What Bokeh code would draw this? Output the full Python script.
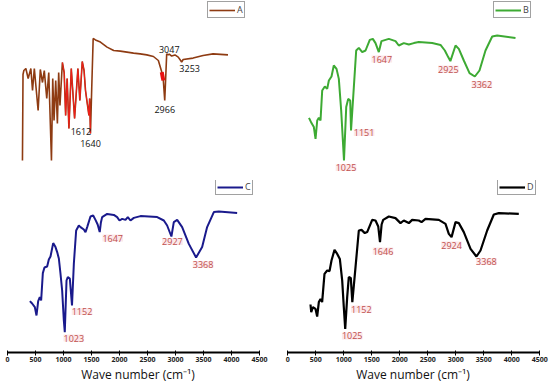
from bokeh.plotting import figure
from bokeh.models import Range1d, ColumnDataSource, LabelSet, Legend, LegendItem, FixedTicker
from bokeh.core.properties import value
from bokeh.layouts import column, row
from bokeh.embed import file_html
from bokeh.resources import INLINE

# ---------------- data (wave number cm-1, transmittance a.u.) ----------------
A_wn = [425, 435, 450, 486, 527, 575, 605, 637, 705, 744, 783, 815, 859, 895, 943, 966, 989,
        1019, 1049, 1072, 1095, 1138, 1170, 1196, 1223, 1255, 1297, 1356, 1415, 1450, 1493,
        1525, 1551, 1580, 1612, 1625, 1640, 1662, 1688, 1729, 1817, 1936, 2054, 2172, 2291,
        2409, 2527, 2646, 2764, 2852, 2913, 2941, 2966, 3001, 3030, 3047, 3090, 3149, 3207,
        3250, 3268, 3295, 3473, 3651, 3829, 4095]
A_t = [9, 52, 54, 55, 50, 55, 44, 55, 34, 54.5, 48, 54, 40, 53, 9, 50, 29,
       49, 27.5, 53, 36.5, 58, 53, 31.5, 50, 25, 55, 30, 55, 39, 58.5,
       54, 44, 38, 31.5, 40, 22.5, 45, 70, 69.3, 68.2, 65.7, 64, 63.7, 63.2,
       62.7, 62.3, 61.8, 61, 59, 53.2, 49, 39, 62.3, 61.8, 62.2, 61.2, 61.8, 60.7,
       59, 58.2, 59.5, 60.2, 61.5, 62.3, 61.8]

B_wn = [400, 445, 487, 517, 547, 576, 606, 636, 683, 725, 755, 802, 843, 892, 933, 975, 1025,
        1065, 1100, 1136, 1151, 1201, 1243, 1290, 1350, 1410, 1486, 1540, 1588, 1647, 1695,
        1826, 1945, 2004, 2093, 2183, 2272, 2361, 2600, 2749, 2826, 2886, 2925, 3017, 3076,
        3165, 3267, 3362, 3445, 3552, 3672, 3761, 4088]
B_t = [30.3, 27.7, 25.7, 19.8, 29, 30.3, 29, 44, 46, 44.8, 49, 51, 56.5, 54.8, 49.8, 34, 9,
       35.7, 39.8, 39, 24, 45.7, 64, 65.3, 63.2, 64, 69.3, 69.8, 67.7, 63.2, 68.7,
       69.8, 68.7, 66.5, 67.7, 67, 67.7, 68.2, 67.7, 66.8, 64, 60.7, 58.7, 66.5, 64.8,
       59, 52.7, 51, 54, 64, 71, 71.5, 70.3]

C_wn = [400, 440, 488, 518, 548, 577, 601, 631, 660, 708, 738, 768, 816, 857, 887, 917, 946,
        976, 1006, 1023, 1054, 1077, 1113, 1152, 1185, 1226, 1274, 1304, 1363, 1393, 1423,
        1482, 1530, 1571, 1610, 1647, 1668, 1690, 1780, 1899, 1958, 2000, 2048, 2107, 2149,
        2196, 2256, 2375, 2673, 2792, 2851, 2927, 2970, 3030, 3119, 3238, 3368, 3476, 3565,
        3685, 3774, 4101]
C_t = [23.7, 22.5, 20.7, 16.5, 23.7, 25.7, 24, 37.7, 40.5, 41, 44.5, 46, 52.7, 50.7, 48.2, 45, 37.5,
       29, 14, 8.2, 34, 35.7, 35, 21.5, 42.5, 59, 61.5, 60.7, 59.5, 58.2, 60.7,
       66, 66.5, 64.3, 62, 58.2, 63, 65.7, 67.3, 66.8, 65.7, 64, 64.8, 64.3, 65.7,
       64, 65.3, 66.2, 65.7, 64, 61.5, 56, 63.2, 64.3, 60.7, 52.3, 45.5, 50.7, 60.7,
       68.2, 68.5, 67.8]

D_wn = [405, 418, 448, 495, 524, 554, 584, 613, 655, 703, 745, 780, 834, 882, 929, 971, 1000,
        1025, 1060, 1089, 1125, 1152, 1209, 1268, 1316, 1375, 1417, 1507, 1566, 1615, 1646,
        1675, 1703, 1804, 1923, 2012, 2071, 2161, 2220, 2339, 2388, 2459, 2697, 2816, 2875,
        2924, 2995, 3054, 3143, 3263, 3368, 3441, 3560, 3679, 3768, 4125]
D_t = [22, 18.2, 20.7, 19.8, 16, 23.2, 24.8, 23.2, 37.3, 39, 38.7, 44, 49.3, 47.3, 44.8, 34, 20.7,
       9.8, 25.7, 35.7, 35.2, 23.2, 40.7, 59, 59.3, 57.7, 58.2, 64.3, 64, 61, 53.2,
       62, 64.3, 66, 65.2, 62.7, 64, 62.7, 64.3, 64, 63.2, 64.8, 64.3, 62.3, 57.3,
       55.7, 63.2, 62.7, 58.2, 49.8, 46, 49, 59, 67, 67.7, 67.3]

# peak annotations: wave number, offsets (px) of the label from the band
A_peaks = [1612, 1640, 2966, 3047, 3268]
A_peak_text = ["1612", "1640", "2966", "3047", "3253"]
A_dx = [-8, 0, 0, 0, 8]
A_dy = [-16, -10, -9, 5, -6]

B_peaks = [1025, 1151, 1647, 2925, 3362]
B_dx = [2, 13, 3, -2, 7]
B_dy = [-7, -2, -7, -8, -8]

C_peaks = [1023, 1152, 1647, 2927, 3368]
C_dx = [9, 10, 13, 1, 7]
C_dy = [-6, -6, -6, -5, -7]

D_peaks = [1025, 1152, 1646, 2924, 3368]
D_dx = [7, 9, 3, 0, 10]
D_dy = [-7, -7, -9, -8, -5]

x_ticks = [0, 500, 1000, 1500, 2000, 2500, 3000, 3500, 4000, 4500]
x_title = "Wave number (cm\u207b\u00b9)"

FONT = "Open Sans"


def base_fig(xr, yr, with_axis, fh):
    p = figure(width=275, frame_height=fh, x_range=Range1d(*xr), y_range=Range1d(*yr),
               output_backend="svg", toolbar_location=None,
               x_axis_location="below" if with_axis else None, y_axis_location=None,
               min_border=0)
    p.grid.visible = False
    p.outline_line_color = None
    p.background_fill_color = "white"
    p.border_fill_color = "white"
    if with_axis:
        ax = p.xaxis[0]
        ax.ticker = FixedTicker(ticks=x_ticks)
        ax.bounds = (0, 4500)
        ax.axis_line_width = 2
        ax.axis_line_color = "black"
        ax.major_tick_in = 2
        ax.major_tick_out = 3
        ax.major_tick_line_color = "black"
        ax.minor_tick_line_color = None
        ax.major_label_text_font = FONT
        ax.major_label_text_font_size = "7px"
        ax.major_label_text_font_style = "bold"
        ax.major_label_text_color = "#222222"
        ax.major_label_standoff = 1
        ax.axis_label = x_title
        ax.axis_label_standoff = 1
        ax.axis_label_text_font = FONT
        ax.axis_label_text_font_size = "12px"
        ax.axis_label_text_font_style = "normal"
        ax.axis_label_text_color = "#111111"
    return p


def add_labels(p, wn, t, peaks, texts, dx, dy, color, bg):
    ys = [t[wn.index(w)] for w in peaks]
    src = ColumnDataSource(dict(x=peaks, y=ys, text=texts, dx=dx, dy=dy))
    ls = LabelSet(x="x", y="y", text="text", x_offset="dx", y_offset="dy", source=src,
                  text_font=value(FONT), text_font_size=value("9px"), text_color=value(color),
                  text_align="center", text_baseline="middle",
                  background_fill_color=bg, background_fill_alpha=0.85 if bg else 0)
    p.add_layout(ls)


def add_legend(p, r, name, loc):
    lg = Legend(items=[LegendItem(label=name, renderers=[r])], location=loc,
                orientation="vertical", border_line_color="#444444", border_line_width=1,
                background_fill_color="white", background_fill_alpha=1,
                padding=1, margin=0, spacing=0, glyph_width=26, glyph_height=8,
                label_standoff=2, label_text_font=FONT, label_text_font_size="9px",
                label_height=8, label_width=6)
    p.add_layout(lg)


TOP_Y = (-1, 89)
BOT_Y = (-2, 84)

# Panel A
pA = base_fig((33, 4944), TOP_Y, False, 180)
rA = pA.line(A_wn, A_t, line_color="#8E3B12", line_width=1.6)
red_idx = [i for i, w in enumerate(A_wn) if 1130 <= w <= 1645]
pA.line([A_wn[i] for i in red_idx], [A_t[i] for i in red_idx], line_color="#FF1A1A",
        line_width=1.1, line_alpha=0.85)
blob_idx = [i for i, w in enumerate(A_wn) if 2913 <= w <= 2941]
pA.line([A_wn[i] for i in blob_idx], [A_t[i] for i in blob_idx], line_color="#E81010",
        line_width=4)
add_labels(pA, A_wn, A_t, A_peaks, A_peak_text, A_dx, A_dy, "#111111", None)
add_legend(pA, rA, "A", (207, 162))

# Panel B
pB = base_fig((-198, 4713), TOP_Y, False, 180)
rB = pB.line(B_wn, B_t, line_color="#3DAA33", line_width=2)
add_labels(pB, B_wn, B_t, B_peaks, [str(v) for v in B_peaks], B_dx, B_dy, "#C0504D", "#FCE4E6")
add_legend(pB, rB, "B", (218, 162))

# Panel C
pC = base_fig((-125, 4786), BOT_Y, True, 172)
rC = pC.line(C_wn, C_t, line_color="#1A1A8C", line_width=2)
add_labels(pC, C_wn, C_t, C_peaks, [str(v) for v in C_peaks], C_dx, C_dy, "#C0504D", "#FCE4E6")
add_legend(pC, rC, "C", (215, 157))

# Panel D
pD = base_fig((-220, 4691), BOT_Y, True, 172)
rD = pD.line(D_wn, D_t, line_color="#000000", line_width=2.2)
add_labels(pD, D_wn, D_t, D_peaks, [str(v) for v in D_peaks], D_dx, D_dy, "#C0504D", "#FCE4E6")
add_legend(pD, rD, "D", (222, 157))

layout = column(row(pA, pB, spacing=0), row(pC, pD, spacing=0), spacing=0)

open("out.html", "w").write(file_html(layout, INLINE))
